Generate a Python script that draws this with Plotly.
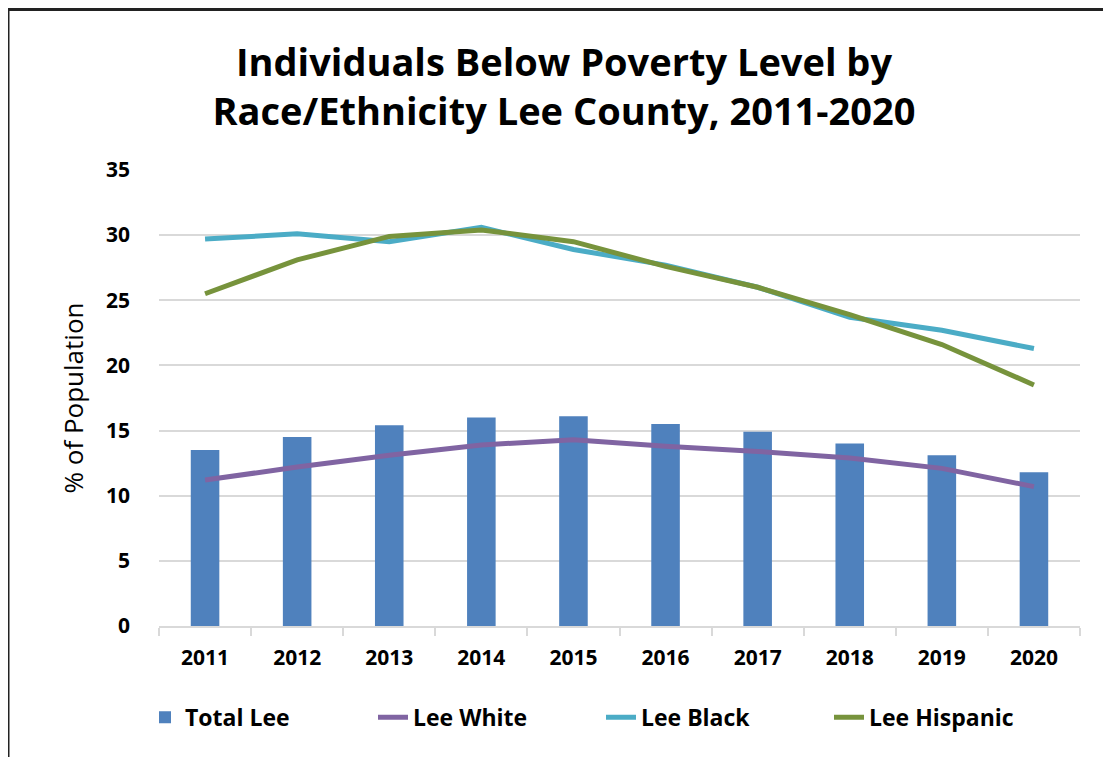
import plotly.graph_objects as go

years = ["2011", "2012", "2013", "2014", "2015", "2016", "2017", "2018", "2019", "2020"]
total_lee = [13.5, 14.5, 15.4, 16.0, 16.1, 15.5, 14.9, 14.0, 13.1, 11.8]
lee_white = [11.2, 12.2, 13.1, 13.9, 14.3, 13.8, 13.4, 12.9, 12.1, 10.7]
lee_black = [29.7, 30.1, 29.5, 30.6, 28.9, 27.7, 26.0, 23.7, 22.7, 21.3]
lee_hispanic = [25.5, 28.1, 29.9, 30.4, 29.5, 27.6, 26.0, 23.9, 21.6, 18.5]
y_ticks = [0, 5, 10, 15, 20, 25, 30, 35]

FONT = "Open Sans"

fig = go.Figure()
fig.add_trace(go.Bar(x=years, y=total_lee, name="Total Lee",
                     marker=dict(color="#4F81BD", line=dict(width=0))))
fig.add_trace(go.Scatter(x=years, y=lee_white, name="Lee White", mode="lines",
                         line=dict(color="#8064A2", width=5)))
fig.add_trace(go.Scatter(x=years, y=lee_black, name="Lee Black", mode="lines",
                         line=dict(color="#4BACC6", width=5)))
fig.add_trace(go.Scatter(x=years, y=lee_hispanic, name="Lee Hispanic", mode="lines",
                         line=dict(color="#77933C", width=5)))

# page has 8px body margin; figure coordinates = page - 8
L, T = 151, 162
W, H = 1111, 757
R = W - 1072
B = H - 618
pw, ph = W - L - R, H - T - B

fig.update_layout(
    width=W, height=H,
    margin=dict(l=L, r=R, t=T, b=B, autoexpand=False),
    paper_bgcolor="white", plot_bgcolor="white",
    font=dict(family=FONT, color="black"),
    title=dict(text="<b>Individuals Below Poverty Level by<br>Race/Ethnicity Lee County, 2011-2020</b>",
               x=(556 - L) / pw, xref="paper", xanchor="center",
               y=1 - 68 / H, yanchor="top", yref="container",
               font=dict(size=38, family=FONT, color="black")),
    bargap=0.69,
    showlegend=True,
    legend=dict(orientation="h", x=(137 - L) / pw, xref="paper", xanchor="left",
                y=-0.2, yanchor="middle",
                font=dict(size=23, family=FONT, color="black", weight="bold"),
                entrywidth=183, entrywidthmode="pixels", traceorder="normal"),
    xaxis=dict(type="category", showgrid=False, showline=True, linecolor="#d9d9d9", linewidth=2,
               ticks="outside", tickson="boundaries", ticklen=8, tickcolor="#d9d9d9", tickwidth=2,
               tickfont=dict(size=21, family=FONT, weight="bold", color="black"),
               ticklabelstandoff=12),
    yaxis=dict(range=[0, 35], tickvals=y_ticks, showgrid=True, gridcolor="#d9d9d9", gridwidth=1.5,
               zeroline=False, showline=False,
               tickfont=dict(size=21, family=FONT, weight="bold", color="black"),
               ticklabelstandoff=28,
               title=dict(text="% of Population", font=dict(size=26, family=FONT, color="black"),
                          standoff=14)),
)

# outer chart border (partially cropped in reference)
fig.add_shape(type="rect", xref="paper", yref="paper",
              x0=(0 - L) / pw, x1=(1130 - L) / pw,
              y0=(T + ph - 780) / ph, y1=(T + ph - 1.5) / ph,
              line=dict(color="#222222", width=3), fillcolor="rgba(0,0,0,0)", layer="below")

fig.write_html("out.html")
